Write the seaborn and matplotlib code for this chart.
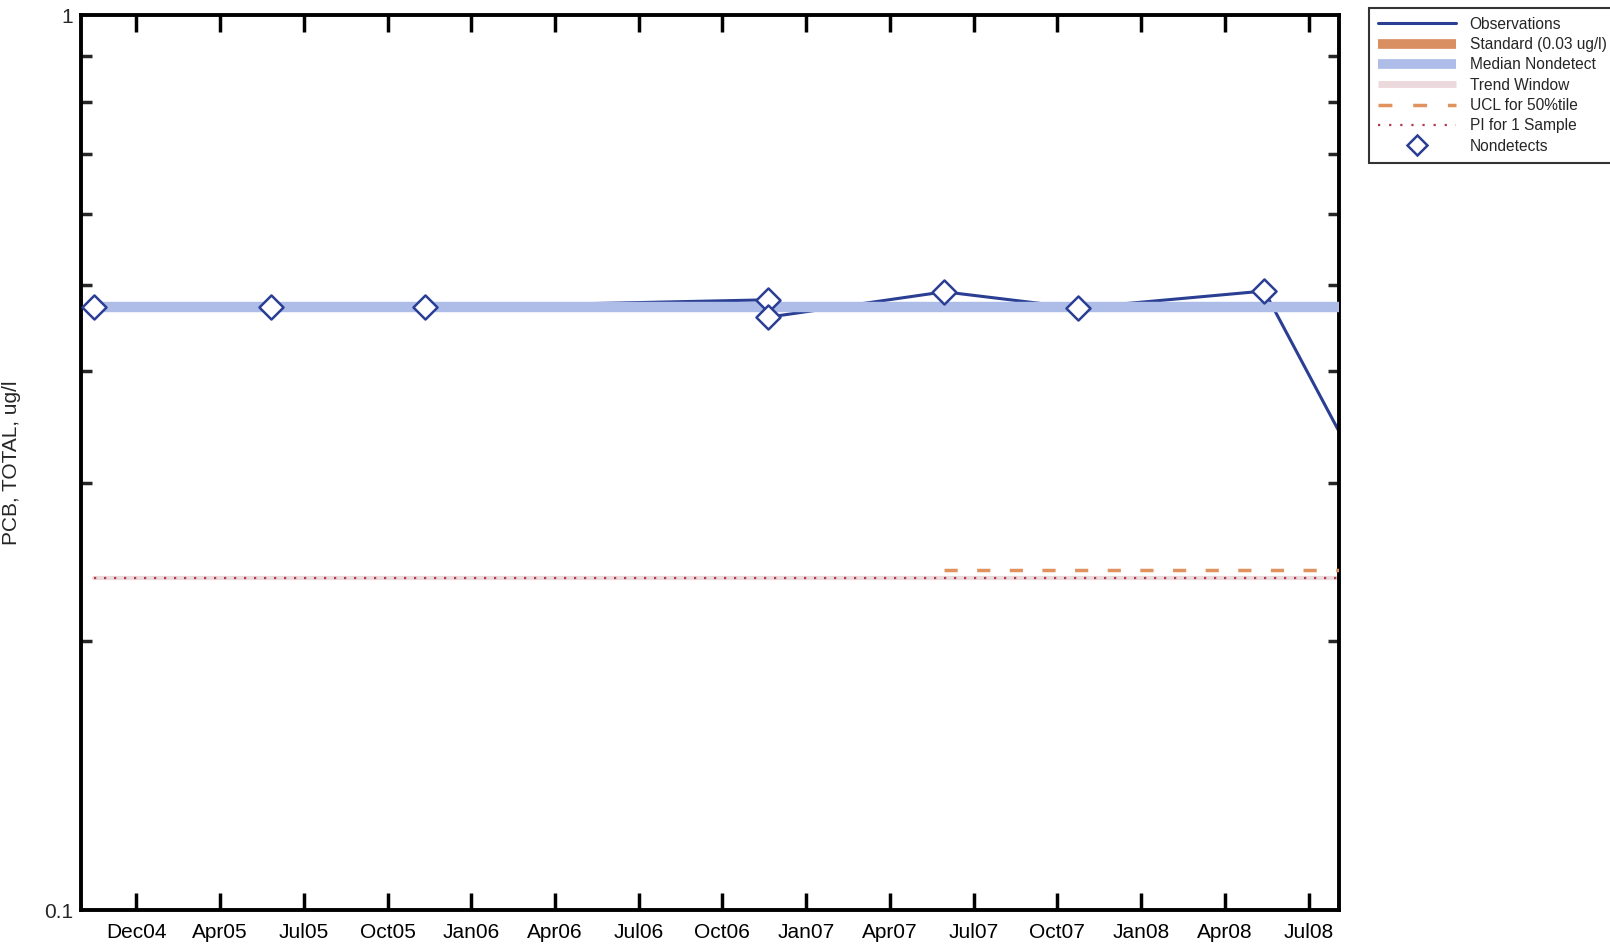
import numpy as np
import pandas as pd
import matplotlib
matplotlib.use("Agg")
import matplotlib.pyplot as plt
import matplotlib.dates as mdates
from matplotlib.ticker import FixedLocator, NullFormatter, FixedFormatter
from matplotlib.lines import Line2D
import seaborn as sns

# ---- data ----
obs_dates = ["2004-10-31", "2005-05-11", "2005-10-26", "2006-11-03", "2006-11-03",
             "2007-05-13", "2007-10-05", "2008-04-25", "2008-07-15"]
obs_values = [0.472, 0.472, 0.472, 0.481, 0.460, 0.491, 0.471, 0.492, 0.343]
nondetect_flags = [True, True, True, True, True, True, True, True, False]

median_nondetect = 0.472
standard_value = 0.03
pi_value = 0.235
ucl_value = 0.240
ucl_start = "2007-05-13"
series_start = "2004-10-31"
series_end = "2008-07-15"

tick_labels = ["Dec04", "Apr05", "Jul05", "Oct05", "Jan06", "Apr06", "Jul06", "Oct06",
               "Jan07", "Apr07", "Jul07", "Oct07", "Jan08", "Apr08", "Jul08"]
legend_labels = ["Observations", "Standard (0.03 ug/l)", "Median Nondetect", "Trend Window",
                 "UCL for 50%tile", "PI for 1 Sample", "Nondetects"]

df = pd.DataFrame({"date": pd.to_datetime(obs_dates), "value": obs_values,
                   "nd": nondetect_flags})

# ---- style ----
sns.set_style("white")
plt.rcParams["font.family"] = ["Liberation Sans", "DejaVu Sans"]

fig = plt.figure(figsize=(16.1, 9.47), dpi=100)
ax = fig.add_axes([0.0504, 0.039, 0.7812, 0.9447])

obs_color = "#2a3e94"
band_color = "#aebde8"
std_color = "#d98f62"
trend_color = "#ecd9dc"
ucl_color = "#e0935f"
pi_color = "#b23a48"

x0, x1 = pd.to_datetime(series_start), pd.to_datetime(series_end)

# observations line
sns.lineplot(data=df, x="date", y="value", sort=False, estimator=None, ax=ax,
             color=obs_color, linewidth=2.2, zorder=2)
# standard (below axis range)
ax.plot([x0, x1], [standard_value, standard_value], color=std_color, linewidth=7, zorder=1)
# trend window
ax.plot([x0, x1], [pi_value, pi_value], color=trend_color, linewidth=3, zorder=1)
# median nondetect band
ax.plot([x0, x1], [median_nondetect, median_nondetect], color=band_color, linewidth=7.5,
        zorder=3, solid_capstyle="butt")
# UCL dashed
ax.plot([pd.to_datetime(ucl_start), x1], [ucl_value, ucl_value], color=ucl_color,
        linewidth=2.5, linestyle=(0, (3.8, 5.6)), zorder=4)
# PI dotted
ax.plot([x0, x1], [pi_value, pi_value], color=pi_color, linewidth=1.6,
        linestyle=(0, (1, 3.5)), zorder=4)
# nondetect diamonds
sns.scatterplot(data=df[df["nd"]], x="date", y="value", ax=ax, marker="D", s=150,
                facecolor="white", edgecolor=obs_color, linewidth=1.8, zorder=5)

# ---- axes ----
ax.set_yscale("log")
ax.set_ylim(0.1, 1)
ax.set_xlim(pd.to_datetime("2004-10-17"), x1)

tick_pos = pd.date_range("2004-12-16", periods=len(tick_labels), freq="91D")
ax.xaxis.set_major_locator(FixedLocator(mdates.date2num(tick_pos)))
ax.xaxis.set_major_formatter(FixedFormatter(tick_labels))
ax.xaxis.set_minor_locator(FixedLocator([]))

ax.yaxis.set_major_locator(FixedLocator([0.1, 1]))
ax.yaxis.set_major_formatter(FixedFormatter(["0.1", "1"]))
ax.yaxis.set_minor_locator(FixedLocator([0.2, 0.3, 0.4, 0.5, 0.6, 0.7, 0.8, 0.9]))
ax.yaxis.set_minor_formatter(NullFormatter())

ax.tick_params(axis="x", which="major", direction="in", length=12, width=2.5,
               top=True, bottom=True, labelsize=15, pad=9, colors="black")
ax.tick_params(axis="y", which="major", direction="in", length=0, width=2.5,
               left=True, right=True, labelsize=15, pad=6)
ax.tick_params(axis="y", which="minor", direction="in", length=8, width=2.5,
               left=True, right=True)

for s in ax.spines.values():
    s.set_linewidth(2.8)
    s.set_color("black")

ax.set_xlabel("")
ax.set_ylabel("PCB, TOTAL, ug/l", fontsize=15)
ax.yaxis.set_label_coords(-0.048, 0.5)

# ---- legend ----
handles = [
    Line2D([], [], color=obs_color, linewidth=2.2),
    Line2D([], [], color=std_color, linewidth=7, solid_capstyle="butt"),
    Line2D([], [], color=band_color, linewidth=7, solid_capstyle="butt"),
    Line2D([], [], color=trend_color, linewidth=5, solid_capstyle="butt"),
    Line2D([], [], color=ucl_color, linewidth=2.5, linestyle=(0, (4, 6))),
    Line2D([], [], color=pi_color, linewidth=1.6, linestyle=(0, (1, 4))),
    Line2D([], [], color=obs_color, marker="D", markersize=10, markerfacecolor="white",
           markeredgewidth=1.8, linestyle="none"),
]
leg = fig.legend(handles, legend_labels, loc="upper left", bbox_to_anchor=(0.850, 0.992),
                 fontsize=11.2, frameon=True, fancybox=False, edgecolor="black",
                 handlelength=5.0, handletextpad=0.9, labelspacing=0.34,
                 borderpad=0.6, borderaxespad=0)
leg.get_frame().set_linewidth(1.5)

fig.savefig("out.png", dpi=100)
